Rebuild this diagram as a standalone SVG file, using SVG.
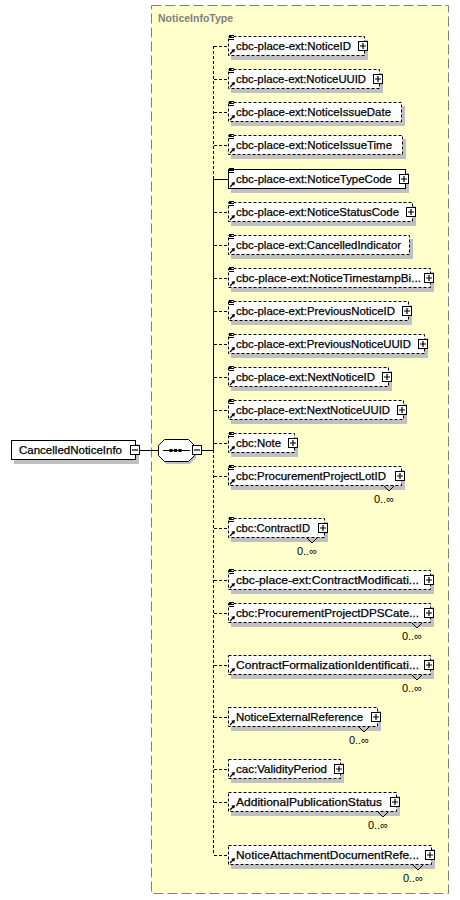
<svg xmlns="http://www.w3.org/2000/svg" xmlns:xlink="http://www.w3.org/1999/xlink" width="460" height="900" viewBox="0 0 460 900">
<defs>
<style>
.lbl{font-family:"Liberation Sans",Arial,sans-serif;font-size:11.4px;fill:#000;stroke:#000;stroke-width:0.25}
.card{font-family:"Liberation Sans",Arial,sans-serif;font-size:11px;fill:#000;text-anchor:end}
.ttl{font-family:"Liberation Sans",Arial,sans-serif;font-size:11px;font-weight:bold;fill:#808080}
.box{fill:#fff;stroke:#000;stroke-width:1}
.opt{stroke-dasharray:3,2}
.sh{fill:#c0c0c0}
.ln{stroke:#000;stroke-width:1;fill:none}
.dash{stroke-dasharray:3,2}
.chev{stroke:#000;stroke-width:1;fill:none}
</style>
<g id="plus"><rect x="0.5" y="0.5" width="9" height="9" fill="#fff" stroke="#000"/><path d="M2,5h6M5,2v6" stroke="#000" stroke-width="1.2"/></g>
<g id="minus"><rect x="0.5" y="0.5" width="9" height="9" fill="#fff" stroke="#000"/><path d="M2,5h6" stroke="#000" stroke-width="1.2"/></g>
<g id="lines"><path d="M1,-0.5h5M1,1.5h5M1,3.5h5" stroke="#000"/></g>
<g id="ref"><path d="M2,18L5,15" stroke="#000" stroke-width="1.3"/><polygon points="7,13 3.2,13.8 6.2,16.8" fill="#000"/></g>
</defs>

<g id="container">
<rect x="151.5" y="5.5" width="297" height="888" fill="#ffffcc" stroke="#808080" stroke-dasharray="10,4"/>
<text class="ttl" x="158" y="22" textLength="75" lengthAdjust="spacingAndGlyphs">NoticeInfoType</text>
</g>

<g id="connectors" shape-rendering="crispEdges">
<path class="ln" d="M140,450H159M201,450H213.5"/>
<path class="ln dash" d="M213.5,46V179"/>
<path class="ln" d="M213.5,179V450"/>
<path class="ln dash" d="M213.5,450V855"/>
<path class="ln dash" d="M213.5,46H228M213.5,79H228M213.5,112H228M213.5,145H228M213.5,212H228M213.5,245H228M213.5,278H228M213.5,311H228M213.5,344H228M213.5,377H228M213.5,410H228M213.5,443H228M213.5,476H228M213.5,528H228M213.5,580H228M213.5,613H228M213.5,665H228M213.5,717H228M213.5,769H228M213.5,802H228M213.5,855H228"/>
<path class="ln" d="M213.5,179H228"/>
</g>

<g id="CancelledNoticeInfo">
<rect class="sh" x="14" y="444" width="125" height="20"/>
<rect class="box" x="11.5" y="440.5" width="124" height="19"/>
<text class="lbl" x="19" y="454" textLength="103" lengthAdjust="spacingAndGlyphs">CancelledNoticeInfo</text>
<use xlink:href="#minus" x="130" y="445"/>
</g>

<g id="sequence">
<polygon class="sh" points="166,443 190,443 196,449 196,458 190,464 166,464 162,458 162,449"/>
<polygon points="164.5,439.5 188.5,439.5 194.5,445.5 194.5,455.5 188.5,461.5 164.5,461.5 158.5,455.5 158.5,445.5" fill="#fff" stroke="#000"/>
<path d="M163,450.5H190" stroke="#000"/>
<rect x="169.5" y="449" width="3" height="3" fill="#000"/>
<rect x="174" y="449" width="3" height="3" fill="#000"/>
<rect x="178.5" y="449" width="3" height="3" fill="#000"/>
<use xlink:href="#minus" x="192" y="445"/>
</g>

<g id="NoticeID">
<rect class="sh" x="231" y="40" width="137" height="20"/>
<rect class="box opt" x="228.5" y="36.5" width="136" height="19"/>
<use xlink:href="#lines" transform="translate(228,36)"/><use xlink:href="#ref" transform="translate(228,36)"/>
<text class="lbl" x="236" y="50" textLength="115" lengthAdjust="spacingAndGlyphs">cbc-place-ext:NoticeID</text>
<use xlink:href="#plus" transform="translate(358,41)"/>
</g>

<g id="NoticeUUID">
<rect class="sh" x="231" y="73" width="152" height="20"/>
<rect class="box opt" x="228.5" y="69.5" width="151" height="19"/>
<use xlink:href="#lines" transform="translate(228,69)"/><use xlink:href="#ref" transform="translate(228,69)"/>
<text class="lbl" x="236" y="83" textLength="130" lengthAdjust="spacingAndGlyphs">cbc-place-ext:NoticeUUID</text>
<use xlink:href="#plus" transform="translate(373,74)"/>
</g>

<g id="NoticeIssueDate">
<rect class="sh" x="231" y="106" width="174" height="20"/>
<rect class="box opt" x="228.5" y="102.5" width="173" height="19"/>
<use xlink:href="#lines" transform="translate(228,102)"/><use xlink:href="#ref" transform="translate(228,102)"/>
<text class="lbl" x="236" y="116" textLength="155" lengthAdjust="spacingAndGlyphs">cbc-place-ext:NoticeIssueDate</text>
</g>

<g id="NoticeIssueTime">
<rect class="sh" x="231" y="139" width="175" height="20"/>
<rect class="box opt" x="228.5" y="135.5" width="174" height="19"/>
<use xlink:href="#lines" transform="translate(228,135)"/><use xlink:href="#ref" transform="translate(228,135)"/>
<text class="lbl" x="236" y="149" textLength="156" lengthAdjust="spacingAndGlyphs">cbc-place-ext:NoticeIssueTime</text>
</g>

<g id="NoticeTypeCode">
<rect class="sh" x="231" y="173" width="178" height="20"/>
<rect class="box" x="228.5" y="169.5" width="177" height="19"/>
<use xlink:href="#lines" transform="translate(228,169)"/><use xlink:href="#ref" transform="translate(228,169)"/>
<text class="lbl" x="236" y="183" textLength="156" lengthAdjust="spacingAndGlyphs">cbc-place-ext:NoticeTypeCode</text>
<use xlink:href="#plus" transform="translate(399,174)"/>
</g>

<g id="NoticeStatusCode">
<rect class="sh" x="231" y="206" width="185" height="20"/>
<rect class="box opt" x="228.5" y="202.5" width="184" height="19"/>
<use xlink:href="#lines" transform="translate(228,202)"/><use xlink:href="#ref" transform="translate(228,202)"/>
<text class="lbl" x="236" y="216" textLength="163" lengthAdjust="spacingAndGlyphs">cbc-place-ext:NoticeStatusCode</text>
<use xlink:href="#plus" transform="translate(406,207)"/>
</g>

<g id="CancelledIndicator">
<rect class="sh" x="231" y="239" width="182" height="20"/>
<rect class="box opt" x="228.5" y="235.5" width="181" height="19"/>
<use xlink:href="#lines" transform="translate(228,235)"/><use xlink:href="#ref" transform="translate(228,235)"/>
<text class="lbl" x="236" y="249" textLength="165" lengthAdjust="spacingAndGlyphs">cbc-place-ext:CancelledIndicator</text>
</g>

<g id="NoticeTimestampBi">
<rect class="sh" x="231" y="272" width="203" height="20"/>
<rect class="box opt" x="228.5" y="268.5" width="202" height="19"/>
<use xlink:href="#lines" transform="translate(228,268)"/><use xlink:href="#ref" transform="translate(228,268)"/>
<text class="lbl" x="236" y="282" textLength="185" lengthAdjust="spacingAndGlyphs">cbc-place-ext:NoticeTimestampBi...</text>
<use xlink:href="#plus" transform="translate(424,273)"/>
</g>

<g id="PreviousNoticeID">
<rect class="sh" x="231" y="305" width="181" height="20"/>
<rect class="box opt" x="228.5" y="301.5" width="180" height="19"/>
<use xlink:href="#lines" transform="translate(228,301)"/><use xlink:href="#ref" transform="translate(228,301)"/>
<text class="lbl" x="236" y="315" textLength="159" lengthAdjust="spacingAndGlyphs">cbc-place-ext:PreviousNoticeID</text>
<use xlink:href="#plus" transform="translate(402,306)"/>
</g>

<g id="PreviousNoticeUUID">
<rect class="sh" x="231" y="338" width="197" height="20"/>
<rect class="box opt" x="228.5" y="334.5" width="196" height="19"/>
<use xlink:href="#lines" transform="translate(228,334)"/><use xlink:href="#ref" transform="translate(228,334)"/>
<text class="lbl" x="236" y="348" textLength="175" lengthAdjust="spacingAndGlyphs">cbc-place-ext:PreviousNoticeUUID</text>
<use xlink:href="#plus" transform="translate(418,339)"/>
</g>

<g id="NextNoticeID">
<rect class="sh" x="231" y="371" width="161" height="20"/>
<rect class="box opt" x="228.5" y="367.5" width="160" height="19"/>
<use xlink:href="#lines" transform="translate(228,367)"/><use xlink:href="#ref" transform="translate(228,367)"/>
<text class="lbl" x="236" y="381" textLength="139" lengthAdjust="spacingAndGlyphs">cbc-place-ext:NextNoticeID</text>
<use xlink:href="#plus" transform="translate(382,372)"/>
</g>

<g id="NextNoticeUUID">
<rect class="sh" x="231" y="404" width="176" height="20"/>
<rect class="box opt" x="228.5" y="400.5" width="175" height="19"/>
<use xlink:href="#lines" transform="translate(228,400)"/><use xlink:href="#ref" transform="translate(228,400)"/>
<text class="lbl" x="236" y="414" textLength="154" lengthAdjust="spacingAndGlyphs">cbc-place-ext:NextNoticeUUID</text>
<use xlink:href="#plus" transform="translate(397,405)"/>
</g>

<g id="Note">
<rect class="sh" x="231" y="437" width="67" height="20"/>
<rect class="box opt" x="228.5" y="433.5" width="66" height="19"/>
<use xlink:href="#lines" transform="translate(228,433)"/><use xlink:href="#ref" transform="translate(228,433)"/>
<text class="lbl" x="236" y="447" textLength="45" lengthAdjust="spacingAndGlyphs">cbc:Note</text>
<use xlink:href="#plus" transform="translate(288,438)"/>
</g>

<g id="ProcurementProjectLotID">
<rect class="sh" x="231" y="470" width="174" height="20"/>
<rect class="box opt" x="228.5" y="466.5" width="173" height="19"/>
<use xlink:href="#lines" transform="translate(228,466)"/><use xlink:href="#ref" transform="translate(228,466)"/>
<text class="lbl" x="236" y="480" textLength="150" lengthAdjust="spacingAndGlyphs">cbc:ProcurementProjectLotID</text>
<use xlink:href="#plus" transform="translate(395,471)"/>
<polyline class="chev" points="384,486 389,491 394,486"/>
<text class="card" x="394" y="503">0..∞</text>
</g>

<g id="ContractID">
<rect class="sh" x="231" y="522" width="97" height="20"/>
<rect class="box opt" x="228.5" y="518.5" width="96" height="19"/>
<use xlink:href="#lines" transform="translate(228,518)"/><use xlink:href="#ref" transform="translate(228,518)"/>
<text class="lbl" x="236" y="532" textLength="74" lengthAdjust="spacingAndGlyphs">cbc:ContractID</text>
<use xlink:href="#plus" transform="translate(318,523)"/>
<polyline class="chev" points="307,538 312,543 317,538"/>
<text class="card" x="317" y="555">0..∞</text>
</g>

<g id="ContractModificati">
<rect class="sh" x="231" y="574" width="203" height="20"/>
<rect class="box opt" x="228.5" y="570.5" width="202" height="19"/>
<use xlink:href="#lines" transform="translate(228,570)"/><use xlink:href="#ref" transform="translate(228,570)"/>
<text class="lbl" x="236" y="584" textLength="183" lengthAdjust="spacingAndGlyphs">cbc-place-ext:ContractModificati...</text>
<use xlink:href="#plus" transform="translate(424,575)"/>
</g>

<g id="ProcurementProjectDPSCate">
<rect class="sh" x="231" y="607" width="203" height="20"/>
<rect class="box opt" x="228.5" y="603.5" width="202" height="19"/>
<use xlink:href="#lines" transform="translate(228,603)"/><use xlink:href="#ref" transform="translate(228,603)"/>
<text class="lbl" x="236" y="617" textLength="183" lengthAdjust="spacingAndGlyphs">cbc:ProcurementProjectDPSCate...</text>
<use xlink:href="#plus" transform="translate(424,608)"/>
<polyline class="chev" points="412,623 417,628 422,623"/>
<text class="card" x="422" y="640">0..∞</text>
</g>

<g id="ContractFormalizationIdentification">
<rect class="sh" x="231" y="659" width="203" height="20"/>
<rect class="box opt" x="228.5" y="655.5" width="202" height="19"/>
<use xlink:href="#ref" transform="translate(228,655)"/>
<text class="lbl" x="236" y="669" textLength="183" lengthAdjust="spacingAndGlyphs">ContractFormalizationIdentificati...</text>
<use xlink:href="#plus" transform="translate(424,660)"/>
<polyline class="chev" points="412,675 417,680 422,675"/>
<text class="card" x="422" y="692">0..∞</text>
</g>

<g id="NoticeExternalReference">
<rect class="sh" x="231" y="711" width="150" height="20"/>
<rect class="box opt" x="228.5" y="707.5" width="149" height="19"/>
<use xlink:href="#ref" transform="translate(228,707)"/>
<text class="lbl" x="236" y="721" textLength="127" lengthAdjust="spacingAndGlyphs">NoticeExternalReference</text>
<use xlink:href="#plus" transform="translate(371,712)"/>
<polyline class="chev" points="359,727 364,732 369,727"/>
<text class="card" x="369" y="744">0..∞</text>
</g>

<g id="ValidityPeriod">
<rect class="sh" x="231" y="763" width="113" height="20"/>
<rect class="box opt" x="228.5" y="759.5" width="112" height="19"/>
<use xlink:href="#ref" transform="translate(228,759)"/>
<text class="lbl" x="236" y="773" textLength="91" lengthAdjust="spacingAndGlyphs">cac:ValidityPeriod</text>
<use xlink:href="#plus" transform="translate(334,764)"/>
</g>

<g id="AdditionalPublicationStatus">
<rect class="sh" x="231" y="796" width="169" height="20"/>
<rect class="box opt" x="228.5" y="792.5" width="168" height="19"/>
<use xlink:href="#ref" transform="translate(228,792)"/>
<text class="lbl" x="236" y="806" textLength="146" lengthAdjust="spacingAndGlyphs">AdditionalPublicationStatus</text>
<use xlink:href="#plus" transform="translate(390,797)"/>
<polyline class="chev" points="378,812 383,817 388,812"/>
<text class="card" x="388" y="829">0..∞</text>
</g>

<g id="NoticeAttachmentDocumentReference">
<rect class="sh" x="231" y="849" width="204" height="20"/>
<rect class="box opt" x="228.5" y="845.5" width="203" height="19"/>
<use xlink:href="#ref" transform="translate(228,845)"/>
<text class="lbl" x="236" y="859" textLength="183" lengthAdjust="spacingAndGlyphs">NoticeAttachmentDocumentRefe...</text>
<use xlink:href="#plus" transform="translate(425,850)"/>
<polyline class="chev" points="413,865 418,870 423,865"/>
<text class="card" x="423" y="882">0..∞</text>
</g>
</svg>
